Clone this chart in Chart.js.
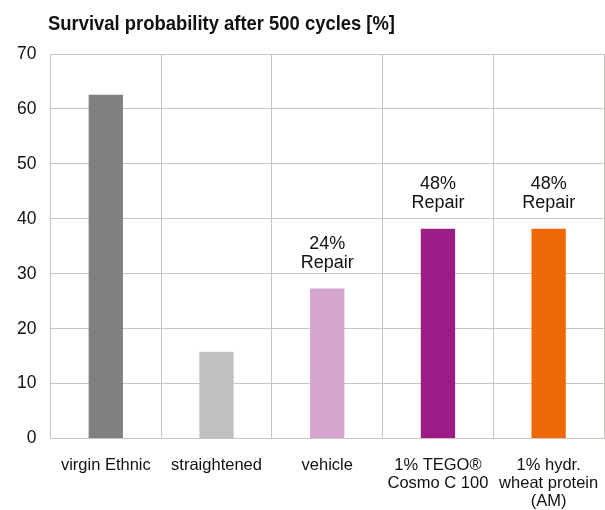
<!DOCTYPE html>
<html>
<head>
<meta charset="utf-8">
<script src="https://cdn.jsdelivr.net/npm/chart.js@4"></script>
<style>
  body { margin: 0; background: #fff; }
  #wrap { width: 605px; height: 510px; }
</style>
</head>
<body>
<div id="wrap"><canvas id="chart"></canvas></div>
<script>
// data
const categories = ["virgin Ethnic", "straightened", "vehicle", ["1% TEGO®", "Cosmo C 100"], ["1% hydr.", "wheat protein", "(AM)"]];
const survival = [62.6, 15.8, 27.3, 38.2, 38.2];
const repairLabels = ["", "", "24%\nRepair", "48%\nRepair", "48%\nRepair"];
const barColors = ["#808080", "#c0c0c0", "#d6a5cd", "#9b1c86", "#ed6806"];
const yTicks = [0, 10, 20, 30, 40, 50, 60, 70];
const titleText = "Survival probability after 500 cycles [%]";

const gridColor = "#c9c5c1";
const fontFam = "'Liberation Sans', Arial, sans-serif";

// title drawn left-ish, a bit narrow like the original
const titlePlugin = {
  id: "leftTitle",
  afterDraw(chart) {
    const ctx = chart.ctx;
    ctx.save();
    ctx.font = "bold 21px " + fontFam;
    ctx.fillStyle = "#111";
    ctx.textBaseline = "alphabetic";
    ctx.textAlign = "left";
    const w = ctx.measureText(titleText).width;
    ctx.translate(48, 30);
    ctx.scale(347 / w, 1);
    ctx.fillText(titleText, 0, 0);
    ctx.restore();
  }
};

// "xx% Repair" labels above bars
const repairPlugin = {
  id: "repairLabels",
  afterDatasetsDraw(chart) {
    const ctx = chart.ctx;
    const meta = chart.getDatasetMeta(0);
    ctx.save();
    ctx.font = "18px " + fontFam;
    ctx.fillStyle = "#111";
    ctx.textAlign = "center";
    ctx.textBaseline = "alphabetic";
    meta.data.forEach((bar, i) => {
      if (!repairLabels[i]) return;
      const lines = repairLabels[i].split("\n");
      let y = bar.y - 21;
      for (let k = lines.length - 1; k >= 0; k--) {
        ctx.fillText(lines[k], bar.x, y);
        y -= 19;
      }
    });
    ctx.restore();
  }
};

new Chart(document.getElementById("chart"), {
  type: "bar",
  data: {
    labels: categories,
    datasets: [{
      data: survival,
      backgroundColor: barColors,
      borderWidth: 0,
      categoryPercentage: 1,
      barPercentage: 0.31
    }]
  },
  options: {
    responsive: true,
    maintainAspectRatio: false,
    animation: false,
    layout: { padding: { top: 54, right: 1, left: 3, bottom: -7 } },
    plugins: {
      legend: { display: false },
      tooltip: { enabled: false },
      title: { display: false }
    },
    scales: {
      x: {
        grid: { color: gridColor, lineWidth: 1, drawTicks: true, tickLength: 12, tickColor: "transparent", offset: true },
        border: { color: gridColor },
        ticks: {
          color: "#111",
          font: { family: fontFam, size: 16.5, lineHeight: 1.1 },
          padding: 6,
          maxRotation: 0,
          autoSkip: false
        }
      },
      y: {
        min: 0,
        max: 70,
        afterBuildTicks(axis) { axis.ticks = yTicks.map(v => ({ value: v })); },
        grid: { color: gridColor, lineWidth: 1, drawTicks: false },
        border: { color: gridColor },
        ticks: {
          color: "#111",
          font: { family: fontFam, size: 17.5 },
          padding: 14
        }
      }
    }
  },
  plugins: [titlePlugin, repairPlugin]
});
</script>
</body>
</html>
